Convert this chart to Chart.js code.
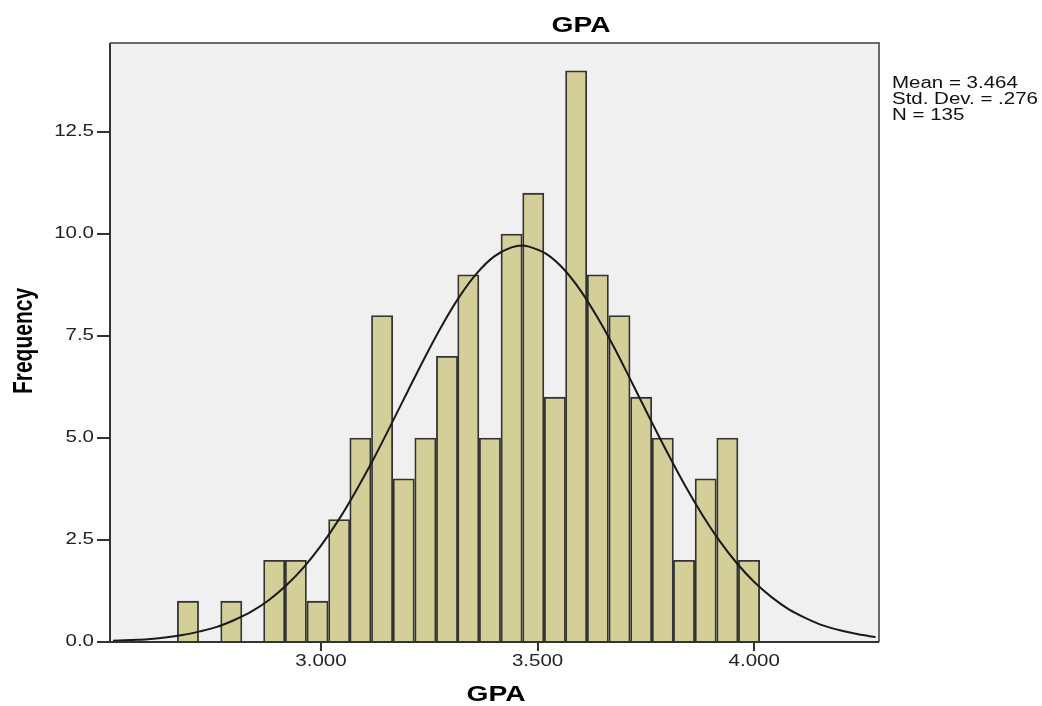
<!DOCTYPE html>
<html>
<head>
<meta charset="utf-8">
<script src="https://cdn.jsdelivr.net/npm/chart.js@4/dist/chart.umd.min.js"></script>
<style>
html,body{margin:0;padding:0;background:#fff;}
canvas{display:block;}
</style>
</head>
<body>
<canvas id="c" width="1042" height="706"></canvas>
<script>
// Histogram bins (bin centers) and frequencies
const binCenters = [2.693, 2.743, 2.793, 2.842, 2.892, 2.942, 2.992, 3.042, 3.091, 3.141, 3.191, 3.241, 3.291, 3.340, 3.390, 3.440, 3.490, 3.540, 3.589, 3.639, 3.689, 3.739, 3.789, 3.838, 3.888, 3.938, 3.988];
const frequencies = [1, 0, 1, 0, 2, 2, 1, 3, 5, 8, 4, 5, 7, 9, 5, 10, 11, 6, 14, 9, 8, 6, 5, 2, 4, 5, 2];

// Fitted normal curve
const curveX = [2.52, 2.56, 2.60, 2.64, 2.68, 2.72, 2.76, 2.80, 2.84, 2.88, 2.92, 2.96, 3.00, 3.04, 3.08, 3.12, 3.16, 3.20, 3.24, 3.28, 3.32, 3.36, 3.40, 3.44, 3.464, 3.48, 3.52, 3.56, 3.60, 3.64, 3.68, 3.72, 3.76, 3.80, 3.84, 3.88, 3.92, 3.96, 4.00, 4.04, 4.08, 4.12, 4.16, 4.20, 4.24, 4.28];
const curveY = [0.03, 0.05, 0.07, 0.11, 0.17, 0.26, 0.37, 0.54, 0.75, 1.03, 1.39, 1.83, 2.36, 2.98, 3.69, 4.46, 5.29, 6.14, 6.98, 7.77, 8.47, 9.04, 9.45, 9.67, 9.72, 9.69, 9.51, 9.14, 8.60, 7.92, 7.15, 6.31, 5.46, 4.63, 3.84, 3.12, 2.48, 1.93, 1.47, 1.10, 0.80, 0.58, 0.40, 0.28, 0.19, 0.12];

const xTicks = [3.0, 3.5, 4.0];
const yTicks = [0, 2.5, 5.0, 7.5, 10.0, 12.5];
const statsLines = ["Mean = 3.464", "Std. Dev. = .276", "N = 135"];
const chartTitle = "GPA";
const xTitle = "GPA";
const yTitle = "Frequency";

const FONT = "'Liberation Sans', Arial, sans-serif";
const SX = 1.28; // horizontal stretch of the original rendering

const barData = [];
binCenters.forEach((x, i) => { if (frequencies[i] > 0) barData.push({x: x, y: frequencies[i]}); });
const lineData = curveX.map((x, i) => ({x: x, y: curveY[i]}));

function stretchedText(ctx, text, x, y, align) {
  ctx.save();
  ctx.translate(x, y);
  ctx.scale(SX, 1);
  ctx.textAlign = align;
  ctx.fillText(text, 0, 0);
  ctx.restore();
}

const framePlugin = {
  id: 'frame',
  beforeDatasetsDraw(chart) {
    const {ctx, chartArea: a} = chart;
    ctx.save();
    ctx.fillStyle = '#f0f0f0';
    ctx.fillRect(a.left, a.top, a.right - a.left, a.bottom - a.top);
    ctx.restore();
  },
  afterDraw(chart) {
    const {ctx, chartArea: a} = chart;
    const xs = chart.scales.x, ys = chart.scales.y;
    ctx.save();
    // frame
    ctx.lineWidth = 2;
    ctx.strokeStyle = '#6a6a6a';
    ctx.beginPath();
    ctx.moveTo(a.left, a.top); ctx.lineTo(a.right, a.top); ctx.lineTo(a.right, a.bottom);
    ctx.stroke();
    ctx.strokeStyle = '#333';
    ctx.beginPath();
    ctx.moveTo(a.left, a.top); ctx.lineTo(a.left, a.bottom); ctx.lineTo(a.right, a.bottom);
    ctx.stroke();
    // tick labels
    ctx.fillStyle = '#222';
    ctx.textBaseline = 'middle';
    ctx.font = "16px " + FONT;
    xTicks.forEach(v => stretchedText(ctx, v.toFixed(3), xs.getPixelForValue(v), 662, 'center'));
    yTicks.forEach(v => stretchedText(ctx, v.toFixed(1), 94, ys.getPixelForValue(v), 'right'));
    // titles
    ctx.fillStyle = '#000';
    ctx.font = "bold 22px " + FONT;
    stretchedText(ctx, chartTitle, 581, 26, 'center');
    stretchedText(ctx, xTitle, 496, 695, 'center');
    ctx.save();
    ctx.translate(25, 341);
    ctx.scale(SX, 1);
    ctx.rotate(-Math.PI / 2);
    ctx.textAlign = 'center';
    ctx.font = "bold 21px " + FONT;
    ctx.fillText(yTitle, 0, 0);
    ctx.restore();
    // stats
    ctx.font = "16px " + FONT;
    ctx.fillStyle = '#111';
    statsLines.forEach((s, i) => stretchedText(ctx, s, 892, 84 + i * 16, 'left'));
    ctx.restore();
  }
};

new Chart(document.getElementById('c'), {
  type: 'bar',
  data: {
    datasets: [
      {
        type: 'line',
        data: lineData,
        borderColor: '#1a1a1a',
        borderWidth: 2,
        pointRadius: 0,
        tension: 0.4,
        cubicInterpolationMode: 'monotone',
        fill: false,
        order: 0
      },
      {
        type: 'bar',
        data: barData,
        backgroundColor: '#d4cf98',
        borderColor: '#333',
        borderWidth: 1.8,
        barPercentage: 1,
        categoryPercentage: 1,
        order: 1
      }
    ]
  },
  options: {
    responsive: false,
    animation: false,
    devicePixelRatio: 1,
    layout: { padding: { top: 43, right: 163, left: 0, bottom: 0 } },
    plugins: { legend: { display: false }, tooltip: { enabled: false }, title: { display: false } },
    scales: {
      x: {
        type: 'linear',
        min: 2.513,
        max: 4.288,
        offset: false,
        afterFit(s) { s.height = 64; },
        afterBuildTicks(s) { s.ticks = xTicks.map(v => ({value: v})); },
        ticks: { display: false, autoSkip: false },
        grid: { offset: false, drawOnChartArea: false, drawTicks: true, tickLength: 9, color: '#333', lineWidth: 2 },
        border: { display: false }
      },
      y: {
        type: 'linear',
        min: 0,
        max: 14.68,
        afterFit(s) { s.width = 110; },
        afterBuildTicks(s) { s.ticks = yTicks.map(v => ({value: v})); },
        ticks: { display: false, autoSkip: false },
        grid: { offset: false, drawOnChartArea: false, drawTicks: true, tickLength: 13, color: '#333', lineWidth: 2 },
        border: { display: false }
      }
    }
  },
  plugins: [framePlugin]
});
</script>
</body>
</html>
